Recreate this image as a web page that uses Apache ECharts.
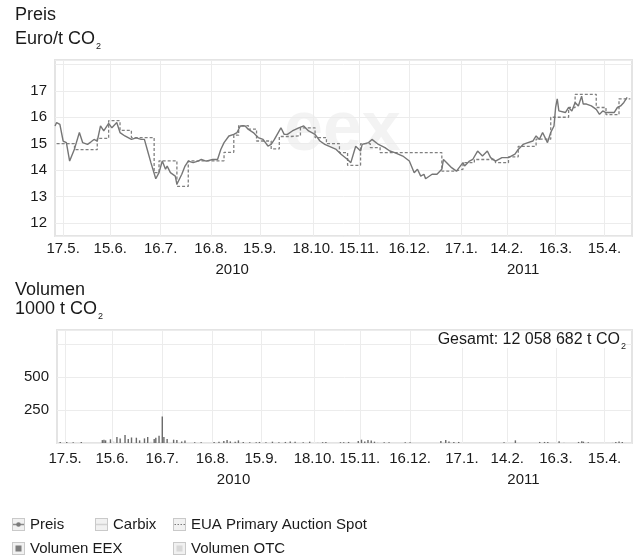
<!DOCTYPE html>
<html>
<head>
<meta charset="utf-8">
<title>EUA Preis und Volumen</title>
<script src="https://cdn.jsdelivr.net/npm/echarts@6/dist/echarts.min.js"></script>
<style>
html, body { margin: 0; padding: 0; background: #fff; }
#chart { width: 635px; height: 557px; }
</style>
</head>
<body>
<div id="chart"></div>
<script>
var FONT = 'Liberation Sans, Arial, Helvetica, sans-serif';

// Zeitraum der x-Achse
var firstDay = '2010-05-12';
var lastDay = '2011-05-02';
var tickDates = ['2010-05-17', '2010-06-15', '2010-07-16', '2010-08-16', '2010-09-15', '2010-10-18',
    '2010-11-15', '2010-12-16', '2011-01-17', '2011-02-14', '2011-03-16', '2011-04-15'];
var yearDates = ['2010-08-29', '2011-02-24'];
var priceTickLabels = [12, 13, 14, 15, 16, 17];
var volTickLabels = [250, 500];

// Preis (Euro/t CO2)
var priceDates = ['2010-05-12','2010-05-13','2010-05-15','2010-05-17','2010-05-19','2010-05-21','2010-05-24','2010-05-27','2010-05-29',
    '2010-06-01','2010-06-03','2010-06-05','2010-06-07','2010-06-09','2010-06-11','2010-06-14','2010-06-16','2010-06-19','2010-06-21','2010-06-24','2010-06-28',
    '2010-07-01','2010-07-04','2010-07-06','2010-07-08','2010-07-10','2010-07-13','2010-07-15','2010-07-17','2010-07-19','2010-07-20','2010-07-22','2010-07-25','2010-07-26','2010-07-29','2010-07-31',
    '2010-08-02','2010-08-05','2010-08-08','2010-08-10','2010-08-13','2010-08-17','2010-08-20','2010-08-22','2010-08-24','2010-08-27','2010-08-30',
    '2010-09-01','2010-09-03','2010-09-06','2010-09-08','2010-09-11','2010-09-14','2010-09-17','2010-09-20','2010-09-22','2010-09-24','2010-09-28','2010-09-30',
    '2010-10-02','2010-10-05','2010-10-09','2010-10-12','2010-10-15','2010-10-19','2010-10-22','2010-10-25',
    '2010-11-01','2010-11-04','2010-11-08','2010-11-10','2010-11-13','2010-11-16','2010-11-17','2010-11-21','2010-11-23','2010-11-27',
    '2010-12-01','2010-12-04','2010-12-07','2010-12-12','2010-12-16','2010-12-19','2010-12-21','2010-12-23','2010-12-25','2010-12-26','2010-12-30',
    '2011-01-02','2011-01-05','2011-01-06','2011-01-08','2011-01-11','2011-01-14','2011-01-18','2011-01-19','2011-01-22','2011-01-24','2011-01-27','2011-01-30',
    '2011-02-02','2011-02-04','2011-02-07','2011-02-11','2011-02-15','2011-02-19','2011-02-21','2011-02-24','2011-02-27',
    '2011-03-02','2011-03-04','2011-03-06','2011-03-08','2011-03-11','2011-03-13','2011-03-15','2011-03-16','2011-03-17','2011-03-18','2011-03-19','2011-03-22','2011-03-24','2011-03-26','2011-03-28','2011-03-30',
    '2011-04-01','2011-04-02','2011-04-04','2011-04-07','2011-04-10','2011-04-12','2011-04-14','2011-04-16','2011-04-18','2011-04-21','2011-04-23','2011-04-25','2011-04-27','2011-04-29','2011-04-30'];
var priceValues = [15.67,15.8,15.73,15.1,15.04,14.34,14.8,15.42,15.04,
    14.97,15.06,15.16,15.1,15.67,15.48,15.77,15.6,15.8,15.42,15.29,15.16,
    15.22,15.16,15.16,14.72,14.28,13.67,13.9,14.34,14.03,14.15,13.9,13.77,13.46,13.84,14.15,
    14.34,14.28,14.34,14.4,14.34,14.4,14.4,14.78,15.04,15.29,15.35,
    15.42,15.67,15.67,15.54,15.42,15.23,15.16,14.91,14.97,15.16,15.6,15.35,
    15.35,15.48,15.6,15.67,15.48,15.35,15.1,14.97,
    14.78,14.6,14.4,14.28,14.9,14.72,14.97,15.04,15.16,14.97,
    14.85,14.72,14.66,14.53,14.34,13.9,14.03,13.77,13.84,13.67,13.84,
    13.84,14.03,14.4,14.28,14.09,13.96,14.28,14.15,14.34,14.4,14.72,14.53,
    14.72,14.47,14.34,14.47,14.47,14.6,14.78,14.97,15.04,
    15.1,15.29,15.16,15.42,15.04,15.42,15.67,16.37,16.7,16.24,16.3,16.18,16.37,16.24,16.56,16.43,
    16.8,16.5,16.5,16.43,16.3,16.11,16.24,16.18,16.18,16.18,16.37,16.43,16.56,16.75,16.8];

// Carbix (im Bild nicht sichtbar)
var carbixDates = [];
var carbixValues = [];

// EUA Primary Auction Spot (Stufen)
var euaDates = ['2010-05-13','2010-05-24','2010-06-07','2010-06-14','2010-06-21','2010-06-28','2010-07-12','2010-07-15','2010-07-26','2010-08-02',
    '2010-08-24','2010-08-30','2010-09-02','2010-09-08','2010-09-13','2010-09-22','2010-09-27','2010-10-04','2010-10-10','2010-10-19',
    '2010-10-26','2010-11-03','2010-11-08','2010-11-16','2010-11-22','2010-11-28','2011-01-05','2011-01-13','2011-01-18','2011-01-25',
    '2011-02-07','2011-02-15','2011-02-21','2011-03-04','2011-03-13','2011-03-24','2011-03-28','2011-04-10','2011-04-16','2011-04-24','2011-05-01'];
var euaValues = [15.0,14.77,15.2,15.87,15.5,15.23,13.9,14.35,13.38,14.35,
    14.67,15.32,15.68,15.55,15.1,14.8,15.27,15.3,15.6,15.23,
    15.0,14.66,14.18,15.0,14.85,14.66,13.96,14.03,14.28,14.4,
    14.28,14.5,14.9,15.17,16.0,16.37,16.87,16.37,16.1,16.7,16.7];

// Volumen EEX (1000 t CO2)
var volEexDates = ['2010-05-14','2010-05-18','2010-05-22','2010-05-27',
    '2010-06-09','2010-06-10','2010-06-11','2010-06-14','2010-06-18','2010-06-20','2010-06-23','2010-06-25','2010-06-27','2010-06-30',
    '2010-07-02','2010-07-05','2010-07-07','2010-07-11','2010-07-12','2010-07-14','2010-07-16','2010-07-17','2010-07-19','2010-07-23','2010-07-25','2010-07-28','2010-07-30',
    '2010-08-05','2010-08-09','2010-08-17','2010-08-20','2010-08-23','2010-08-25','2010-08-27','2010-08-30',
    '2010-09-01','2010-09-04','2010-09-08','2010-09-12','2010-09-14','2010-09-18','2010-09-22','2010-09-26','2010-09-30',
    '2010-10-03','2010-10-06','2010-10-11','2010-10-15','2010-10-23','2010-10-25',
    '2010-11-03','2010-11-05','2010-11-08','2010-11-14','2010-11-16','2010-11-18','2010-11-20','2010-11-22','2010-11-24','2010-11-30',
    '2010-12-03','2010-12-13','2010-12-16',
    '2011-01-04','2011-01-07','2011-01-09','2011-01-12','2011-01-15',
    '2011-02-12','2011-02-19',
    '2011-03-06','2011-03-09','2011-03-11','2011-03-18','2011-03-30',
    '2011-04-01','2011-04-02','2011-04-05','2011-04-22','2011-04-24','2011-04-26'];
var volEexValues = [8,8,6,8,
    22,25,20,28,45,35,60,30,42,40,
    20,35,45,30,40,55,200,45,30,25,22,12,18,
    6,6,8,10,15,22,12,10,
    20,8,6,6,8,6,10,6,8,
    12,10,6,10,6,8,
    6,6,8,15,25,12,22,18,10,6,
    6,6,6,
    15,22,12,8,8,
    6,20,
    8,8,8,14,8,
    14,10,6,8,12,8];

// Volumen OTC
var volOtcDates = ['2010-06-16','2010-07-09','2010-08-31','2010-10-20','2010-11-26','2011-01-10','2011-03-21','2011-04-20'];
var volOtcValues = [12,10,8,6,8,6,8,6];

// alle Kalendertage als Kategorien
function dayList(from, to) {
    var list = [];
    var d = new Date(from + 'T00:00:00Z');
    var end = new Date(to + 'T00:00:00Z');
    while (d <= end) {
        list.push(d.toISOString().slice(0, 10));
        d.setUTCDate(d.getUTCDate() + 1);
    }
    return list;
}

function zip(dates, values) {
    var out = [];
    for (var i = 0; i < dates.length; i++) {
        out.push([dates[i], values[i]]);
    }
    return out;
}

function fmtDate(v) {
    var p = v.split('-');
    return parseInt(p[2], 10) + '.' + parseInt(p[1], 10) + '.';
}

function isTick(index, value) {
    return tickDates.indexOf(value) > -1;
}

function isYear(index, value) {
    return yearDates.indexOf(value) > -1;
}

function svgIcon(inner) {
    var svg = "<svg xmlns='http://www.w3.org/2000/svg' width='13' height='13'>" +
        "<rect x='0.5' y='0.5' width='12' height='12' fill='#f1f1f1' stroke='#c9c9c9'/>" + inner + "</svg>";
    return 'image://data:image/svg+xml;charset=utf-8,' + encodeURIComponent(svg);
}

var days = dayList(firstDay, lastDay);
var textColor = '#1a1a1a';
var gridColor = '#ececec';

function dateAxis(gridIndex) {
    return {
        gridIndex: gridIndex,
        type: 'category',
        data: days,
        boundaryGap: false,
        axisLine: {show: false},
        axisTick: {show: false},
        axisLabel: {interval: isTick, formatter: fmtDate, fontSize: 15, color: textColor, fontFamily: FONT, margin: gridIndex === 0 ? 5 : 8},
        splitLine: {show: true, interval: isTick, lineStyle: {color: gridColor, width: 1}}
    };
}

function yearAxis(gridIndex) {
    return {
        gridIndex: gridIndex,
        type: 'category',
        data: days,
        boundaryGap: false,
        position: 'bottom',
        offset: 21,
        axisLine: {show: false},
        axisTick: {show: false},
        axisLabel: {interval: isYear, formatter: function (v) { return v.slice(0, 4); }, fontSize: 15, color: textColor, fontFamily: FONT, margin: gridIndex === 0 ? 5 : 8},
        splitLine: {show: false}
    };
}

// eine Legende pro Eintrag, damit die Spalten wie im Original sitzen
function legendAt(left, top, name, icon) {
    return {
        left: left, top: top, padding: 0, itemWidth: 13, itemHeight: 13,
        textStyle: {fontSize: 15, color: textColor, fontFamily: FONT},
        data: [{name: name, icon: icon}]
    };
}

var subRich = {s: {fontSize: 9, fontFamily: FONT, verticalAlign: 'bottom', padding: [0, 0, -3, 1]}};

var chart = echarts.init(document.getElementById('chart'));

var option = {
    animation: false,
    backgroundColor: '#fff',
    textStyle: {fontFamily: FONT},
    grid: [
        {left: 55, right: 3, top: 60, height: 176, show: true, borderColor: '#e4e4e4', borderWidth: 2},
        {left: 57, right: 3, top: 330, height: 113, show: true, borderColor: '#e4e4e4', borderWidth: 2}
    ],
    xAxis: [dateAxis(0), yearAxis(0), dateAxis(1), yearAxis(1)],
    yAxis: [
        {
            gridIndex: 0, type: 'value', min: 11.5, max: 18.17, splitNumber: 6,
            axisLine: {show: false}, axisTick: {show: false},
            axisLabel: {
                fontSize: 15, color: textColor, fontFamily: FONT, margin: 8,
                formatter: function (v) { return priceTickLabels.indexOf(v) > -1 ? String(v) : ''; }
            },
            splitLine: {lineStyle: {color: gridColor}}
        },
        {
            gridIndex: 1, type: 'value', min: 0, max: 856, interval: 250,
            axisLine: {show: false}, axisTick: {show: false},
            axisLabel: {
                fontSize: 15, color: textColor, fontFamily: FONT, margin: 8,
                formatter: function (v) { return volTickLabels.indexOf(v) > -1 ? String(v) : ''; }
            },
            splitLine: {lineStyle: {color: gridColor}}
        }
    ],
    legend: [
        legendAt(12, 517, 'Preis', svgIcon("<line x1='1' y1='6.5' x2='12' y2='6.5' stroke='#8a8a8a' stroke-width='1.5'/><circle cx='6.5' cy='6.5' r='2.3' fill='#7a7a7a'/>")),
        legendAt(95, 517, 'Carbix', svgIcon("<line x1='1' y1='6.5' x2='12' y2='6.5' stroke='#d2d2d2' stroke-width='1.5'/>")),
        legendAt(173, 517, 'EUA Primary Auction Spot', svgIcon("<line x1='1.5' y1='6.5' x2='12' y2='6.5' stroke='#7a7a7a' stroke-width='1.2' stroke-dasharray='1.5,1.5'/>")),
        legendAt(12, 541, 'Volumen EEX', svgIcon("<rect x='3.5' y='3.5' width='6' height='6' fill='#7d7d7d'/>")),
        legendAt(173, 541, 'Volumen OTC', svgIcon("<rect x='3.5' y='3.5' width='6' height='6' fill='#d8d8d8'/>"))
    ],
    graphic: [
        {type: 'text', left: 284, top: 96, z: 0, silent: true,
            style: {text: 'eex', fontSize: 70, fontWeight: 'bold', fontFamily: FONT, fill: '#f3f3f3'}},
        {type: 'text', left: 15, top: 6,
            style: {text: 'Preis', fontSize: 18, fontFamily: FONT, fill: textColor}},
        {type: 'text', left: 15, top: 30,
            style: {text: 'Euro/t CO{s|2}', fontSize: 18, fontFamily: FONT, fill: textColor, rich: subRich}},
        {type: 'text', left: 15, top: 281,
            style: {text: 'Volumen', fontSize: 18, fontFamily: FONT, fill: textColor}},
        {type: 'text', left: 15, top: 300,
            style: {text: '1000 t CO{s|2}', fontSize: 18, fontFamily: FONT, fill: textColor, rich: subRich}},
        {type: 'text', right: 9, top: 332, z: 100,
            style: {text: 'Gesamt: 12 058 682 t CO{s|2}', fontSize: 16, fontFamily: FONT, fill: textColor,
                backgroundColor: '#fff', rich: subRich}}
    ],
    series: [
        {
            name: 'Carbix', type: 'line', xAxisIndex: 0, yAxisIndex: 0,
            data: zip(carbixDates, carbixValues), symbol: 'none',
            color: '#d2d2d2', lineStyle: {color: '#d2d2d2', width: 1.2}
        },
        {
            name: 'EUA Primary Auction Spot', type: 'line', xAxisIndex: 0, yAxisIndex: 0, step: 'end',
            data: zip(euaDates, euaValues), symbol: 'none', z: 3,
            color: '#7a7a7a', lineStyle: {color: '#808080', width: 1.3, type: [3, 2]}
        },
        {
            name: 'Preis', type: 'line', xAxisIndex: 0, yAxisIndex: 0,
            data: zip(priceDates, priceValues), symbol: 'none', z: 4,
            color: '#767676', lineStyle: {color: '#767676', width: 1.4}
        },
        {
            name: 'Volumen OTC', type: 'bar', xAxisIndex: 2, yAxisIndex: 1,
            data: zip(volOtcDates, volOtcValues), barWidth: 1.4, barGap: '-100%',
            color: '#d4d4d4', itemStyle: {color: '#d4d4d4'}
        },
        {
            name: 'Volumen EEX', type: 'bar', xAxisIndex: 2, yAxisIndex: 1,
            data: zip(volEexDates, volEexValues), barWidth: 1.4, barGap: '-100%',
            color: '#6a6a6a', itemStyle: {color: '#6a6a6a'}
        }
    ]
};

chart.setOption(option);
</script>
</body>
</html>
